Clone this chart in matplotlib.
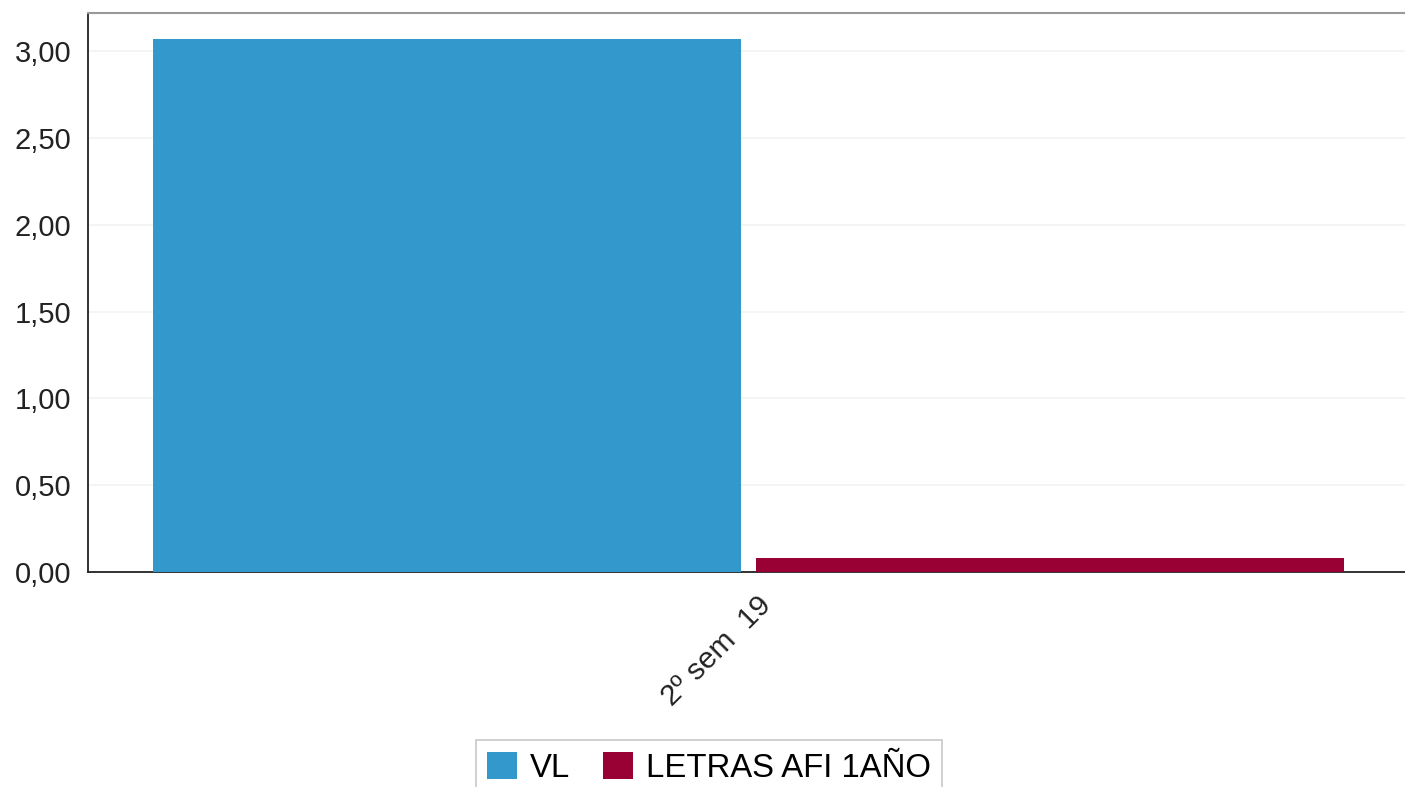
import numpy as np
import matplotlib
matplotlib.use("Agg")
import matplotlib.pyplot as plt
import matplotlib.transforms as mtransforms
from matplotlib.ticker import FuncFormatter

plt.rcParams['font.family'] = ['Liberation Sans', 'DejaVu Sans']

categories = ["2º sem  19"]
series_names = ["VL", "LETRAS AFI 1AÑO"]
vl = [3.07]
letras = [0.08]
colors = ["#3399cc", "#990033"]

fig = plt.figure(figsize=(14.05, 7.87), dpi=100)
ax = fig.add_axes([88/1405, 1-572/787, 1-88/1405, (572-13)/787])

x = np.arange(len(categories))
w = 0.447
ax.bar(x - 0.2275, vl, w, color=colors[0], label=series_names[0], zorder=3)
ax.bar(x + 0.2305, letras, w, color=colors[1], label=series_names[1], zorder=3)

ax.set_xlim(-0.5, 0.5)
ax.set_ylim(0, 3.22)
ax.set_yticks(np.arange(0, 3.01, 0.5))
ax.yaxis.set_major_formatter(FuncFormatter(lambda v, p: f"{v:.2f}".replace(".", ",")))
ax.set_xticks(x)
ax.set_xticklabels(categories, rotation=45, ha="right", rotation_mode="anchor")
ax.tick_params(axis="both", length=0, labelsize=21, colors="#222222")
ax.tick_params(axis="y", pad=12)
ax.tick_params(axis="x", labelsize=21.5, pad=14)
# nudge the rotated label a bit to the right
shift = mtransforms.ScaledTranslation(10/100, 0, fig.dpi_scale_trans)
for lbl in ax.get_xticklabels():
    lbl.set_transform(lbl.get_transform() + shift)

ax.grid(axis="y", color="#f2f2f2", linewidth=1.2, zorder=0)
ax.spines["right"].set_visible(False)
ax.spines["top"].set_color("#999999")
ax.spines["top"].set_linewidth(1.5)
ax.spines["left"].set_color("#222222")
ax.spines["bottom"].set_color("#222222")
ax.spines["left"].set_linewidth(1.3)
ax.spines["bottom"].set_linewidth(1.3)

leg = fig.legend(loc="upper center", bbox_to_anchor=(709/1405, 1-740/787), ncol=2,
                 fontsize=23.7, frameon=True, fancybox=False, handlelength=0.9,
                 handleheight=0.9, handletextpad=0.4, columnspacing=1.0,
                 borderpad=0.35, borderaxespad=0)
leg.get_frame().set_edgecolor("#bbbbbb")
leg.get_frame().set_linewidth(1.2)

fig.savefig("out.png", dpi=100)
